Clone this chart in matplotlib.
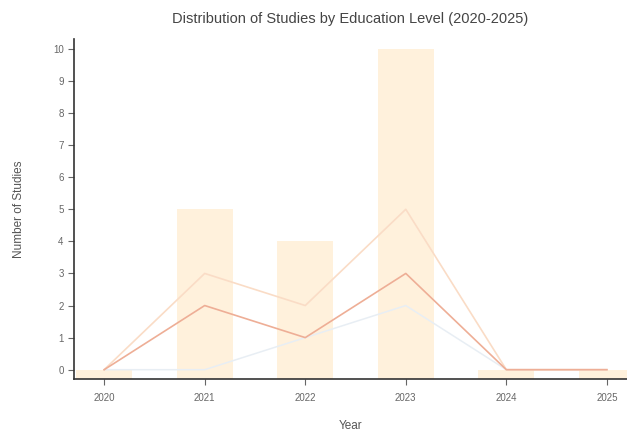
import matplotlib.pyplot as plt

plt.rcParams['font.family'] = ['Liberation Sans', 'DejaVu Sans']

years = [2020, 2021, 2022, 2023, 2024, 2025]
total = [0, 5, 4, 10, 0, 0]
line_a = [0, 3, 2, 5, 0, 0]
line_b = [0, 2, 1, 3, 0, 0]
line_c = [0, 0, 1, 2, 0, 0]

fig = plt.figure(figsize=(6.27, 4.36), dpi=100)
ax = fig.add_axes([0.118, 0.13, 0.882, 0.78])

ymin = -0.3
ax.set_ylim(ymin, 10.3)
ax.set_xlim(2019.7, 2025.2)

# bars start at the axis floor so zero years show as a thin band
ax.bar(years, [t - ymin for t in total], bottom=ymin, width=0.56,
       color='#fff1dc', zorder=1)

ax.plot(years, line_c, color='#e8eef4', lw=1.1, zorder=2)
ax.plot(years, line_a, color='#fadcc6', lw=1.2, zorder=3)
ax.plot(years, line_b, color='#eeae96', lw=1.2, zorder=4)

ax.set_title("Distribution of Studies by Education Level (2020-2025)",
             fontsize=10.5, color='#444444', pad=12)
ax.set_xlabel("Year", fontsize=8.5, color='#555555', labelpad=12)
ax.set_ylabel("Number of Studies", fontsize=8.5, color='#555555', labelpad=20)

ax.set_xticks(years)
ax.set_yticks(range(0, 11))
ax.tick_params(labelsize=7, colors='#666666', length=4, width=0.8)
ax.tick_params(axis='x', pad=6)
ax.spines['top'].set_visible(False)
ax.spines['right'].set_visible(False)
for s in ['left', 'bottom']:
    ax.spines[s].set_color('#333333')
    ax.spines[s].set_linewidth(1.2)

fig.savefig("out.png", dpi=100)
